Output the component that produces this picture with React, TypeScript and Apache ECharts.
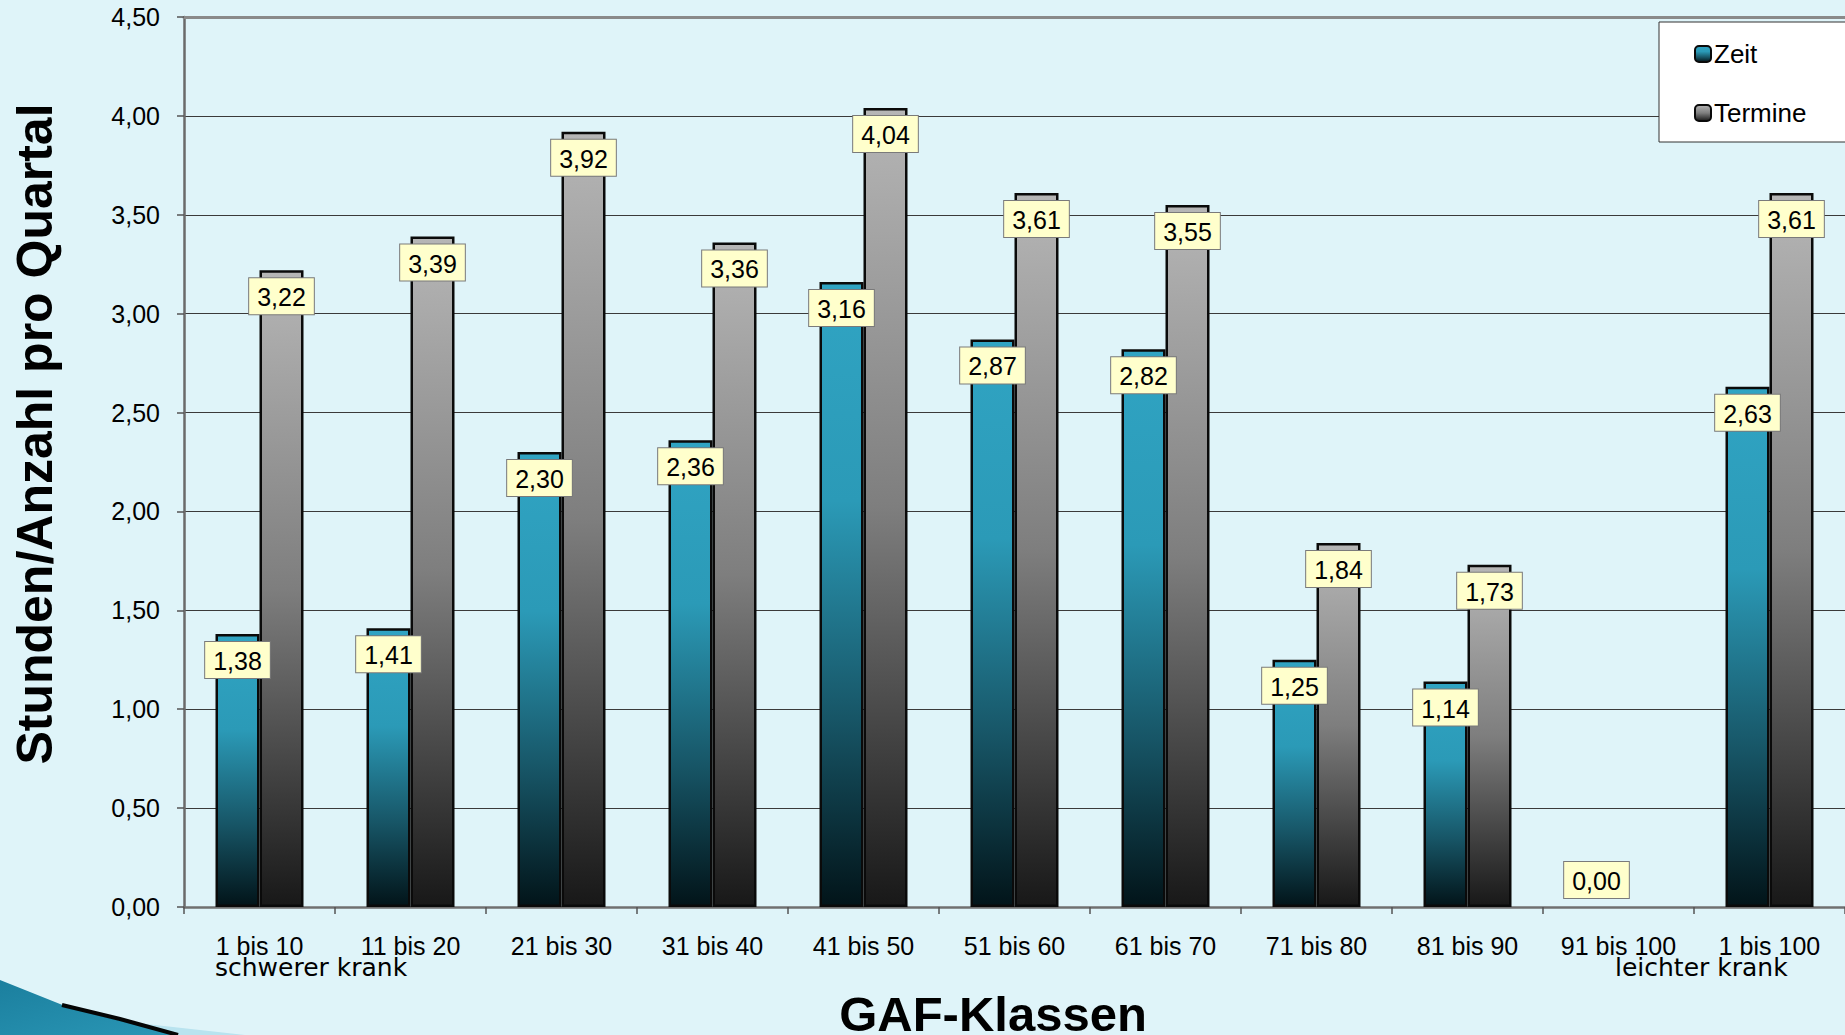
import React, { useEffect, useRef } from "react";
import * as echarts from "echarts";

// GAF classes on the category axis
const categories = [
  "1 bis 10",
  "11 bis 20",
  "21 bis 30",
  "31 bis 40",
  "41 bis 50",
  "51 bis 60",
  "61 bis 70",
  "71 bis 80",
  "81 bis 90",
  "91 bis 100",
  "1 bis 100",
];

// Hours per quarter
const zeit: (number | null)[] = [1.38, 1.41, 2.3, 2.36, 3.16, 2.87, 2.82, 1.25, 1.14, 0.0, 2.63];
// Appointments per quarter
const termine: (number | null)[] = [3.22, 3.39, 3.92, 3.36, 4.04, 3.61, 3.55, 1.84, 1.73, null, 3.61];

const yTicks = { min: 0, max: 4.5, interval: 0.5 };

const BG = "#dff4f9";
const FONT = "'Liberation Sans', Arial, sans-serif";

const fmt = (v: number) => v.toFixed(2).replace(".", ",");

const valueLabel = {
  show: true,
  position: "insideTop" as const,
  distance: 8,
  formatter: (p: any) => fmt(p.value),
  fontFamily: FONT,
  fontSize: 25,
  color: "#000",
  backgroundColor: "#ffffcc",
  borderColor: "#7a7a7a",
  borderWidth: 1,
  padding: [5, 8, 3, 8],
  lineHeight: 28,
};

export default function App() {
  const ref = useRef<HTMLDivElement>(null);

  useEffect(() => {
    document.body.style.margin = "0";
    document.body.style.background = BG;
    document.body.style.overflow = "hidden";
    if (!ref.current) return;
    const chart = echarts.init(ref.current, undefined, { renderer: "svg" });

    const zeitGrad = new echarts.graphic.LinearGradient(0, 0, 0, 1, [
      { offset: 0, color: "#30a4c3" },
      { offset: 0.35, color: "#2b9ab7" },
      { offset: 0.7, color: "#175566" },
      { offset: 1, color: "#021419" },
    ]);
    const termineGrad = new echarts.graphic.LinearGradient(0, 0, 0, 1, [
      { offset: 0, color: "#b6b6b6" },
      { offset: 0.5, color: "#7e7e7e" },
      { offset: 1, color: "#181818" },
    ]);

    // a zero value has no visible bar; its label sits just above the axis
    const zeitData = zeit.map((v) =>
      v === 0
        ? { value: v, itemStyle: { borderWidth: 0 }, label: { position: "top", distance: 9 } }
        : v
    );

    chart.setOption({
      animation: false,
      backgroundColor: BG,
      textStyle: { fontFamily: FONT },
      grid: { left: 184, top: 17, width: 1664, height: 890, containLabel: false },
      legend: {
        orient: "vertical",
        left: 1689,
        top: 36,
        itemGap: 33,
        itemWidth: 16,
        itemHeight: 16,
        icon: "roundRect",
        z: 5,
        textStyle: { fontFamily: FONT, fontSize: 26, color: "#000", padding: [0, 0, 0, -2] },
        data: ["Zeit", "Termine"],
      },
      xAxis: [
        {
          type: "category",
          data: categories,
          axisLine: { show: true, lineStyle: { color: "#707070", width: 2.5 } },
          axisTick: { show: true, alignWithLabel: false, length: 7, lineStyle: { color: "#555", width: 1.5 } },
          axisLabel: { interval: 0, fontFamily: FONT, fontSize: 25, color: "#000", margin: 26 },
          splitLine: { show: false },
        },
        {
          type: "category",
          position: "top",
          data: categories,
          axisLine: { show: true, lineStyle: { color: "#8a8a8a", width: 3 } },
          axisTick: { show: false },
          axisLabel: { show: false },
        },
      ],
      yAxis: {
        type: "value",
        min: yTicks.min,
        max: yTicks.max,
        interval: yTicks.interval,
        axisLine: { show: true, lineStyle: { color: "#6a6a6a", width: 2.5 } },
        axisTick: { show: true, length: 7, lineStyle: { color: "#555", width: 1.5 } },
        axisLabel: {
          fontFamily: FONT,
          fontSize: 25,
          color: "#000",
          margin: 24,
          formatter: (v: number) => fmt(v),
        },
        splitLine: { show: true, lineStyle: { color: "#3a3a3a", width: 1 } },
      },
      series: [
        {
          name: "Zeit",
          type: "bar",
          data: zeitData,
          barWidth: 44,
          barGap: "0%",
          itemStyle: { color: zeitGrad, borderColor: "#0a0a0a", borderWidth: 2.5 },
          label: valueLabel,
        },
        {
          name: "Termine",
          type: "bar",
          data: termine,
          barWidth: 44,
          barGap: "0%",
          itemStyle: { color: termineGrad, borderColor: "#0a0a0a", borderWidth: 2.5 },
          label: valueLabel,
        },
      ],
      graphic: [
        // legend frame
        {
          type: "rect",
          z: 3,
          shape: { x: 1659, y: 22, width: 220, height: 120 },
          style: { fill: "#ffffff", stroke: "#333", lineWidth: 1 },
        },
        // axis titles
        {
          type: "text",
          x: 35,
          y: 434,
          rotation: Math.PI / 2,
          style: {
            text: "Stunden/Anzahl pro Quartal",
            fontFamily: FONT,
            fontWeight: "bold",
            fontSize: 50,
            fill: "#000",
            align: "center",
            verticalAlign: "middle",
          },
        },
        {
          type: "text",
          x: 993,
          y: 1014,
          style: {
            text: "GAF-Klassen",
            fontFamily: FONT,
            fontWeight: "bold",
            fontSize: 49,
            fill: "#000",
            align: "center",
            verticalAlign: "middle",
          },
        },
        // severity hints under the first and last class
        {
          type: "text",
          x: 215,
          y: 967,
          style: {
            text: "schwerer krank",
            fontFamily: "'DejaVu Sans', sans-serif",
            fontSize: 25,
            fill: "#000",
            align: "left",
            verticalAlign: "middle",
          },
        },
        {
          type: "text",
          x: 1615,
          y: 967,
          style: {
            text: "leichter krank",
            fontFamily: "'DejaVu Sans', sans-serif",
            fontSize: 25,
            fill: "#000",
            align: "left",
            verticalAlign: "middle",
          },
        },
        // slide swoosh in the lower left corner
        {
          type: "polygon",
          shape: { points: [[110, 1020], [245, 1035], [175, 1035]] },
          style: { fill: "#b9e3ef" },
        },
        {
          type: "polygon",
          shape: { points: [[0, 980], [70, 1008], [178, 1035], [0, 1035]] },
          style: {
            fill: new echarts.graphic.LinearGradient(0, 0, 1, 1, [
              { offset: 0, color: "#1b7f9e" },
              { offset: 1, color: "#2a97b6" },
            ]),
          },
        },
        {
          type: "polyline",
          shape: { points: [[62, 1005], [120, 1019], [178, 1035]] },
          style: { stroke: "#050505", lineWidth: 4, fill: null },
        },
      ],
    });

    return () => chart.dispose();
  }, []);

  return <div ref={ref} style={{ width: 1845, height: 1035 }} />;
}
